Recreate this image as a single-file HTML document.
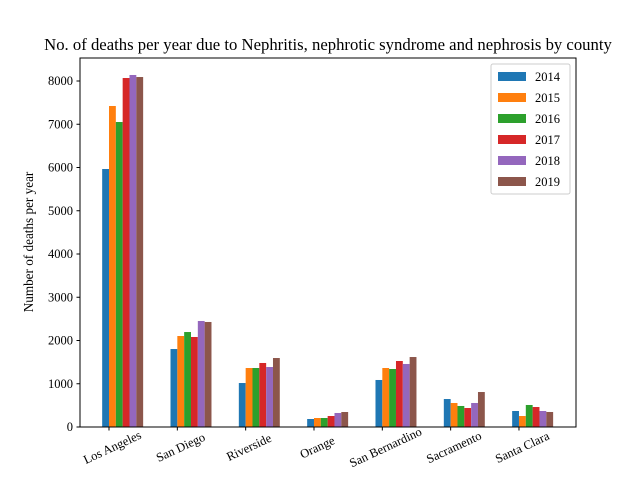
<!DOCTYPE html>
<html><head><meta charset="utf-8"><style>
body{margin:0;background:#fff}
svg{font-family:"Liberation Serif","DejaVu Serif",serif}
</style></head><body>
<svg id="chart" width="640" height="480" xmlns="http://www.w3.org/2000/svg">
<rect width="640" height="480" fill="#fff"/>
<text x="328" y="50" font-size="16.7" text-anchor="middle">No. of deaths per year due to Nephritis, nephrotic syndrome and nephrosis by county</text>
<text transform="translate(33,242) rotate(-90)" font-size="13.2" text-anchor="middle">Number of deaths per year</text>
<g id="bars"></g>
<g id="axes"></g>
<rect x="80" y="58" width="496" height="369" fill="none" stroke="#000" stroke-width="1"/>
<g id="legend"></g>
</svg>
<script>
const categories=["Los Angeles","San Diego","Riverside","Orange","San Bernardino","Sacramento","Santa Clara"];
const years=["2014","2015","2016","2017","2018","2019"];
const colors=["#1f77b4","#ff7f0e","#2ca02c","#d62728","#9467bd","#8c564b"];
const s2014=[5965,1803,1017,185,1087,647,370];
const s2015=[7422,2104,1364,208,1364,555,254];
const s2016=[7052,2196,1364,208,1341,486,509];
const s2017=[8069,2081,1480,254,1526,439,462];
const s2018=[8139,2451,1387,324,1457,555,370];
const s2019=[8092,2428,1595,347,1618,809,347];
const series=[s2014,s2015,s2016,s2017,s2018,s2019];
const yTicks=[0,1000,2000,3000,4000,5000,6000,7000,8000];
const NS="http://www.w3.org/2000/svg";
const x0=80,x1=576,y0=427,y1=58;
const xScale=v=>109+68.33*v;
const yScale=v=>y0-v*0.04325;
const w=6.83;
const bars=document.getElementById('bars');
const axes=document.getElementById('axes');
function mk(tag,attrs,parent){const e=document.createElementNS(NS,tag);for(const k in attrs)e.setAttribute(k,attrs[k]);parent.appendChild(e);return e;}
series.forEach((s,si)=>{s.forEach((v,ci)=>{
 const r=mk('rect',{x:xScale(ci)+(si-1)*w,y:yScale(v),width:w,height:y0-yScale(v),fill:colors[si]},bars);
 
 
});});
yTicks.forEach(t=>{
 const y=yScale(t);
 const l=mk('line',{x1:x0-3.5,x2:x0,y1:y,y2:y,stroke:'#000'},axes);
 
 
 const tx=mk('text',{x:x0-7,y:y+4,'font-size':12.5,'text-anchor':'end'},axes);
 tx.textContent=t;
 
 
});
categories.forEach((c,i)=>{
 const x=xScale(i);
 const l=mk('line',{x1:x,x2:x,y1:y0,y2:y0+3.5,stroke:'#000'},axes);
 
 
 const tx=mk('text',{transform:`translate(${x+5},${y0+24}) rotate(-25)`,'font-size':12.5,'text-anchor':'middle'},axes);
 tx.textContent=c;
 
 
});
const lg=document.getElementById('legend');
const box=mk('rect',{x:491,y:64,width:79,height:130,fill:'#fff',stroke:'#ccc',rx:2},lg);


years.forEach((yr,i)=>{
 const y=76+i*21;
 const p=mk('rect',{x:498,y:y-4,width:28,height:9,fill:colors[i]},lg);
 
 
 const t=mk('text',{x:535,y:y+5,'font-size':12.5},lg);
 t.textContent=yr;
 
 
});
</script>
</body></html>
